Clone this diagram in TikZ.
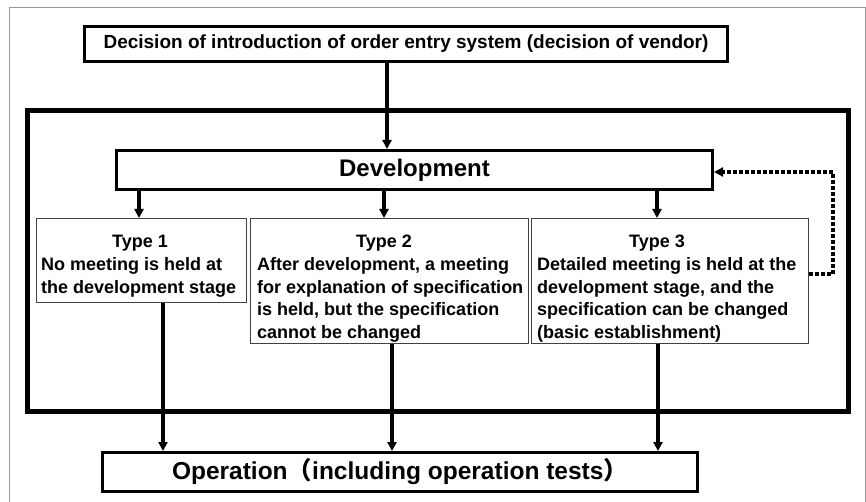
\documentclass[tikz,border=0pt]{standalone}
\usepackage{fontspec}
\setmainfont{Liberation Sans}
\newfontfamily\cjkfont{Noto Sans CJK JP}
\usetikzlibrary{arrows.meta}
\begin{document}
\begin{tikzpicture}[x=1pt,y=-1pt,
  frame/.style={draw=gray!80, line width=1pt},
  bigbox/.style={draw=black, line width=5pt},
  box/.style={draw=black, line width=3pt, fill=white, inner sep=0pt, anchor=north west},
  typebox/.style={draw=black!75, line width=1.2pt, fill=white, inner sep=0pt, anchor=north west},
  title/.style={font=\fontsize{18}{21}\selectfont\bfseries, inner sep=0pt},
  body/.style={font=\fontsize{18}{22.5}\selectfont\bfseries, align=left, inner sep=0pt, anchor=north west},
  arr/.style={line width=3.5pt, -{Triangle[length=9pt,width=9pt]}},
  fb/.style={line width=3.5pt, dash pattern=on 3.5pt off 2.5pt, -{Triangle[length=9pt,width=9pt]}}
]
\useasboundingbox (0,0) rectangle (866,502);
\draw[frame] (9,502) -- (9,8) -- (865,8) -- (865,502);
\draw[bigbox] (27,111) rectangle (848,411);

\node[box, minimum width=643pt, minimum height=35pt] (top) at (83,25)
  {\fontsize{19}{22}\selectfont\bfseries Decision of introduction of order entry system (decision of vendor)};
\node[box, minimum width=596pt, minimum height=39pt] (dev) at (115,149)
  {\fontsize{24}{28}\selectfont\bfseries Development};
\node[typebox, minimum width=210pt, minimum height=84pt] (t1) at (36,218) {};
\node[typebox, minimum width=278pt, minimum height=125pt] (t2) at (250,218) {};
\node[typebox, minimum width=277pt, minimum height=125pt] (t3) at (531,218) {};
\node[box, minimum width=595pt, minimum height=39pt] (op) at (101,451)
  {\fontsize{24.5}{28}\selectfont\bfseries Operation{\cjkfont （}including operation tests{\cjkfont ）}};

\node[title] (h1) at (140,243) {Type 1};
\node[title] (h2) at (384,243) {Type 2};
\node[title] (h3) at (657,243) {Type 3};
\node[body] (b1) at (41,257.5) {No meeting is held at\\the development stage};
\node[body] (b2) at (257,257.5) {After development, a meeting\\for explanation of specification\\is held, but the specification\\cannot be changed};
\node[body] (b3) at (537,257.5) {Detailed meeting is held at the\\development stage, and the\\specification can be changed\\(basic establishment)};

\draw[arr] (top.south -| 387,0) -- (dev.north -| 387,0);
\draw[arr] (dev.south -| 139,0) -- (t1.north -| 139,0);
\draw[arr] (dev.south -| 384,0) -- (t2.north -| 384,0);
\draw[arr] (dev.south -| 657,0) -- (t3.north -| 657,0);
\draw[arr] (t1.south -| 163,0) -- (op.north -| 163,0);
\draw[arr] (t2.south -| 392,0) -- (op.north -| 392,0);
\draw[arr] (t3.south -| 658,0) -- (op.north -| 658,0);
\coordinate (c1) at (833,274);
\coordinate (c2) at (833,172);
\draw[fb] (t3.east |- c1) -- (c1) -- (c2) -- (dev.east |- c2);
\end{tikzpicture}
\end{document}
